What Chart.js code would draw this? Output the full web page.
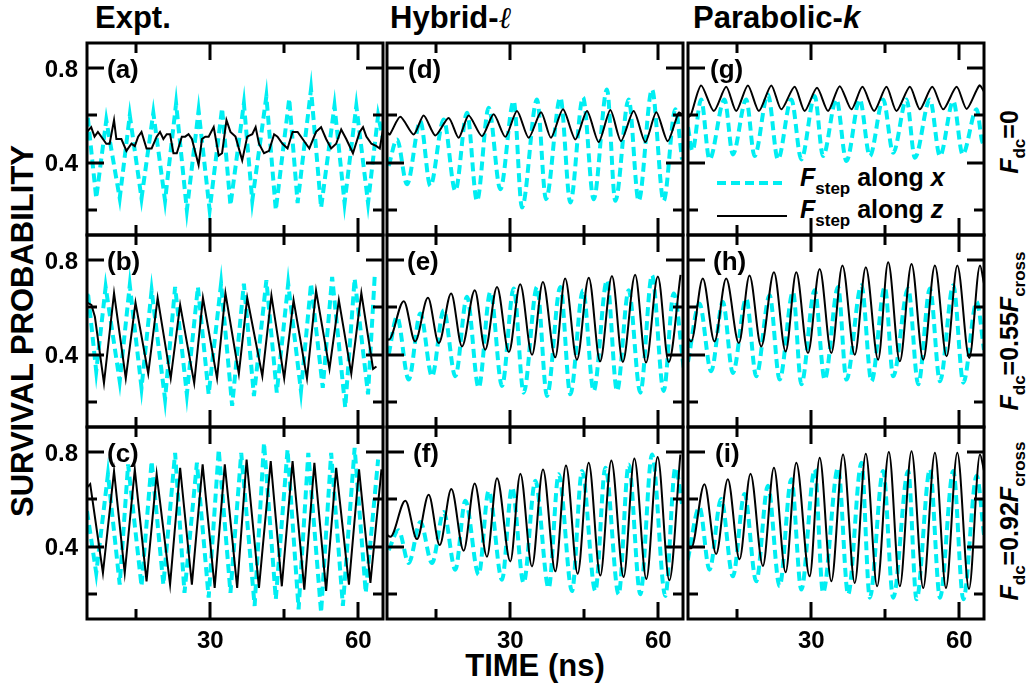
<!DOCTYPE html>
<html>
<head>
<meta charset="utf-8">
<script src="https://cdn.jsdelivr.net/npm/chart.js@4.4.1/dist/chart.umd.min.js"></script>
<style>
  html, body { margin: 0; padding: 0; background: #fff; }
  #page { position: relative; width: 1030px; height: 688px; overflow: hidden; background: #fff; }
  #page canvas { position: absolute; }
  #overlay { position: absolute; left: 0; top: 0; pointer-events: none; }
  #overlay text { font-family: "Liberation Sans", Arial, Helvetica, sans-serif; font-weight: bold; fill: #000; }
</style>
</head>
<body>
<div id="page">
  <svg id="overlay" width="1030" height="688" xmlns="http://www.w3.org/2000/svg">
    <!-- column headings -->
    <text x="95" y="28" font-size="31">Expt.</text>
    <text x="390" y="28" font-size="31">Hybrid-<tspan font-family="DejaVu Serif" font-weight="normal" font-style="italic" font-size="30">ℓ</tspan></text>
    <text x="693" y="28" font-size="31">Parabolic-<tspan font-style="italic">k</tspan></text>

    <!-- axis titles -->
    <text transform="translate(33,331) rotate(-90)" text-anchor="middle" font-size="31">SURVIVAL PROBABILITY</text>
    <text x="535" y="676" text-anchor="middle" font-size="31">TIME (ns)</text>

    <!-- row labels (static field) -->
    <text transform="translate(1018,142) rotate(-90)" text-anchor="middle" font-size="25"><tspan font-style="italic">F</tspan><tspan font-size="17" dy="7">dc</tspan><tspan dy="-7">=0</tspan></text>
    <text transform="translate(1018,331) rotate(-90)" text-anchor="middle" font-size="25"><tspan font-style="italic">F</tspan><tspan font-size="17" dy="7">dc</tspan><tspan dy="-7">=0.55</tspan><tspan font-style="italic">F</tspan><tspan font-size="17" dy="7">cross</tspan></text>
    <text transform="translate(1018,521) rotate(-90)" text-anchor="middle" font-size="25"><tspan font-style="italic">F</tspan><tspan font-size="17" dy="7">dc</tspan><tspan dy="-7">=0.92</tspan><tspan font-style="italic">F</tspan><tspan font-size="17" dy="7">cross</tspan></text>

    <!-- legend -->
    <line x1="717" y1="183" x2="786" y2="183" stroke="#00eef2" stroke-width="4" stroke-dasharray="9,5"/>
    <text x="800" y="186" font-size="25"><tspan font-style="italic">F</tspan><tspan font-size="17" dy="8">step</tspan><tspan dy="-8"> along </tspan><tspan font-style="italic">x</tspan></text>
    <line x1="717" y1="216" x2="787" y2="216" stroke="#000" stroke-width="2"/>
    <text x="800" y="218" font-size="25"><tspan font-style="italic">F</tspan><tspan font-size="17" dy="8">step</tspan><tspan dy="-8"> along </tspan><tspan font-style="italic">z</tspan></text>
  </svg>
</div>
<script>
// Axis settings shared by every panel
const timeRange = [5, 65];
const probRange = [0.095, 0.905];
const timeTicks = [15, 30, 45, 60];
const timeLabels = [30, 60];
const probTicks = [0.2, 0.4, 0.6, 0.8];
const probLabels = [0.4, 0.8];

// Survival probability vs. time, [time (ns), probability]
// Experiment, F_dc = 0
const expA_z = [[5.0,0.53],[5.85,0.55],[6.53,0.51],[7.21,0.53],[8.23,0.50],[8.91,0.48],[9.59,0.48],[10.48,0.58],[10.95,0.50],[11.97,0.50],[12.99,0.45],[14.01,0.48],[14.69,0.47],[15.37,0.51],[16.05,0.53],[17.07,0.46],[18.10,0.46],[19.12,0.51],[19.80,0.53],[20.48,0.50],[21.16,0.52],[21.84,0.52],[22.52,0.44],[23.20,0.44],[24.22,0.51],[24.90,0.51],[25.58,0.52],[26.26,0.50],[27.62,0.39],[28.30,0.50],[28.98,0.51],[29.66,0.51],[30.68,0.55],[31.70,0.43],[32.38,0.44],[33.27,0.58],[34.08,0.53],[35.10,0.51],[36.46,0.41],[37.48,0.51],[38.50,0.52],[39.18,0.55],[39.86,0.48],[40.88,0.44],[41.90,0.45],[42.93,0.52],[43.61,0.51],[44.63,0.48],[45.65,0.46],[46.67,0.53],[47.69,0.53],[48.71,0.50],[50.07,0.46],[51.43,0.53],[52.45,0.55],[53.47,0.50],[54.49,0.46],[55.51,0.48],[56.53,0.54],[57.55,0.50],[58.91,0.44],[60.27,0.53],[60.95,0.55],[61.63,0.51],[62.65,0.48],[63.67,0.47],[64.35,0.46],[65.0,0.54]];
const expA_x = [[5.17,0.59],[6.87,0.25],[8.91,0.58],[11.63,0.25],[13.67,0.60],[16.05,0.25],[18.44,0.61],[20.82,0.24],[23.06,0.65],[25.24,0.20],[27.62,0.62],[29.86,0.20],[32.38,0.63],[34.08,0.22],[36.80,0.65],[38.50,0.24],[41.36,0.68],[43.27,0.20],[45.99,0.67],[47.69,0.23],[50.41,0.71],[52.45,0.21],[55.17,0.64],[57.21,0.23],[59.59,0.64],[61.97,0.23],[64.01,0.60],[65.0,0.50]];
// Experiment, F_dc = 0.55 F_cross
const expB_z = [[5.0,0.62],[5.9,0.61],[6.6,0.56],[8.44,0.28],[10.48,0.66],[12.86,0.30],[14.83,0.62],[17.41,0.32],[19.32,0.64],[21.97,0.30],[23.88,0.61],[26.73,0.28],[28.50,0.64],[31.36,0.30],[33.06,0.66],[35.78,0.32],[37.48,0.64],[40.54,0.31],[42.38,0.65],[44.97,0.30],[46.87,0.63],[49.59,0.30],[51.43,0.67],[54.15,0.34],[56.05,0.63],[58.57,0.32],[60.61,0.66],[62.99,0.34],[63.67,0.35]];
const expB_x = [[5.0,0.62],[5.17,0.665],[6.87,0.33],[8.78,0.686],[11.63,0.288],[13.67,0.693],[16.05,0.26],[18.10,0.672],[20.82,0.212],[22.86,0.686],[25.24,0.233],[27.48,0.686],[29.66,0.233],[32.18,0.70],[34.42,0.184],[36.80,0.70],[38.84,0.226],[41.36,0.714],[43.47,0.24],[45.78,0.70],[48.37,0.247],[50.41,0.70],[52.79,0.26],[54.69,0.728],[57.35,0.177],[59.25,0.721],[61.97,0.233],[63.33,0.735]];
// Experiment, F_dc = 0.92 F_cross
const expC_z = [[4.97,0.65],[5.65,0.664],[8.23,0.289],[10.48,0.719],[12.65,0.289],[14.69,0.726],[17.07,0.254],[19.12,0.706],[21.84,0.24],[23.88,0.733],[26.26,0.24],[28.44,0.747],[30.88,0.226],[32.93,0.747],[35.44,0.226],[37.35,0.768],[39.86,0.226],[42.24,0.761],[44.49,0.233],[46.67,0.761],[49.05,0.219],[51.09,0.754],[53.47,0.213],[55.51,0.733],[58.10,0.24],[60.14,0.726],[62.45,0.247],[64.69,0.726]];
const expC_x = [[5.0,0.55],[6.87,0.289],[9.25,0.706],[11.63,0.24],[13.33,0.747],[16.05,0.233],[18.10,0.761],[20.48,0.24],[22.86,0.796],[24.76,0.205],[27.28,0.754],[29.66,0.185],[31.70,0.81],[34.08,0.205],[36.26,0.796],[38.98,0.15],[40.88,0.838],[43.27,0.178],[45.65,0.81],[47.89,0.136],[49.86,0.796],[52.45,0.122],[54.49,0.796],[56.87,0.15],[59.25,0.817],[61.50,0.205],[64.01,0.768]];

// Hybrid-l calculation
const hybD_z = [[5.0,0.53],[5.54,0.519],[7.70,0.594],[10.41,0.519],[12.43,0.599],[14.80,0.515],[17.50,0.589],[19.53,0.505],[21.55,0.599],[24.26,0.512],[26.62,0.604],[28.99,0.509],[31.35,0.618],[33.72,0.505],[36.22,0.613],[38.24,0.505],[40.68,0.625],[43.18,0.498],[45.54,0.618],[47.91,0.487],[50.27,0.622],[52.43,0.491],[55.00,0.618],[57.36,0.487],[59.59,0.613],[61.89,0.491],[64.12,0.611],[65.0,0.60]];
const hybD_x = [[5.34,0.386],[7.03,0.498],[9.05,0.309],[11.76,0.575],[13.78,0.302],[16.49,0.582],[18.85,0.281],[21.22,0.611],[23.24,0.239],[25.61,0.632],[27.97,0.288],[30.68,0.66],[32.36,0.211],[35.41,0.667],[37.23,0.246],[40.14,0.674],[42.16,0.232],[44.73,0.676],[46.89,0.246],[49.59,0.709],[51.28,0.239],[53.99,0.667],[56.01,0.239],[58.72,0.709],[61.08,0.239],[63.45,0.625],[64.80,0.414]];
const hybE_z = [[5.0,0.47],[5.34,0.463],[8.4,0.626],[10.7,0.456],[13.3,0.64],[15.5,0.449],[18.0,0.658],[20.2,0.435],[22.8,0.672],[24.9,0.421],[27.3,0.686],[29.7,0.411],[32.0,0.697],[34.4,0.40],[36.6,0.707],[39.1,0.389],[41.1,0.721],[43.5,0.379],[45.9,0.725],[48.2,0.372],[50.6,0.732],[52.8,0.369],[55.3,0.737],[57.5,0.367],[59.9,0.73],[62.1,0.369],[64.5,0.737]];
const hybE_x = [[5.34,0.40],[7.03,0.56],[9.39,0.295],[11.76,0.574],[14.12,0.309],[16.49,0.588],[18.85,0.309],[21.22,0.644],[23.58,0.261],[25.95,0.665],[28.31,0.268],[30.68,0.679],[32.70,0.24],[35.41,0.686],[37.43,0.226],[40.14,0.686],[42.16,0.233],[44.73,0.672],[46.89,0.247],[49.59,0.714],[51.62,0.247],[53.99,0.672],[56.35,0.24],[58.72,0.735],[61.08,0.247],[63.11,0.658],[65.14,0.344]];
const hybF_z = [[5.0,0.45],[5.68,0.442],[8.72,0.594],[11.08,0.432],[13.45,0.619],[15.68,0.407],[18.04,0.643],[20.54,0.383],[22.77,0.667],[25.27,0.358],[27.30,0.689],[30.00,0.338],[32.03,0.708],[34.39,0.317],[36.62,0.726],[39.12,0.296],[41.28,0.743],[43.65,0.286],[45.88,0.754],[48.24,0.278],[50.47,0.764],[52.97,0.272],[55.14,0.772],[57.57,0.264],[59.86,0.778],[62.23,0.258],[64.46,0.789]];
const hybF_x = [[5.34,0.386],[7.36,0.469],[9.39,0.331],[11.76,0.504],[14.12,0.331],[16.49,0.546],[18.85,0.303],[20.88,0.594],[23.58,0.282],[25.61,0.636],[28.31,0.261],[30.34,0.65],[32.70,0.247],[35.07,0.678],[37.77,0.226],[39.80,0.706],[42.50,0.213],[44.53,0.719],[47.23,0.213],[49.26,0.733],[51.96,0.199],[53.99,0.747],[56.35,0.199],[58.72,0.789],[61.42,0.192],[63.45,0.733],[64.80,0.581]];

// Parabolic-k calculation
const parG_z = [[5.0,0.59],[5.63,0.604],[7.66,0.726],[10.23,0.618],[12.74,0.72],[14.77,0.618],[17.14,0.726],[19.37,0.618],[21.88,0.726],[23.91,0.625],[26.61,0.72],[28.65,0.618],[31.15,0.716],[33.39,0.618],[35.75,0.723],[38.12,0.625],[40.36,0.72],[42.73,0.618],[45.23,0.72],[47.26,0.618],[49.97,0.72],[52.00,0.625],[54.51,0.72],[56.74,0.625],[59.45,0.72],[61.48,0.627],[64.06,0.726],[65.0,0.70]];
const parG_x = [[5.0,0.55],[5.9,0.45],[7.66,0.667],[9.35,0.414],[12.40,0.667],[14.09,0.435],[16.80,0.667],[18.49,0.428],[21.20,0.688],[23.23,0.414],[25.94,0.667],[27.97,0.414],[30.68,0.681],[32.37,0.428],[35.08,0.667],[37.11,0.407],[39.82,0.667],[41.85,0.428],[44.56,0.667],[46.59,0.442],[49.30,0.667],[50.99,0.421],[54.04,0.667],[56.07,0.428],[58.77,0.66],[60.67,0.435],[63.51,0.625],[64.53,0.498],[65.0,0.47]];
const parH_z = [[5.0,0.47],[5.63,0.456],[8.00,0.721],[10.37,0.456],[12.74,0.721],[15.31,0.449],[17.47,0.734],[19.84,0.435],[22.42,0.748],[24.79,0.414],[26.95,0.748],[29.32,0.407],[31.69,0.762],[34.06,0.407],[36.30,0.776],[38.80,0.40],[41.04,0.769],[43.54,0.379],[45.57,0.79],[47.94,0.372],[50.31,0.783],[52.68,0.379],[55.05,0.776],[57.42,0.393],[59.59,0.776],[62.02,0.386],[64.19,0.776],[65.0,0.70]];
const parH_x = [[5.0,0.37],[7.32,0.616],[9.69,0.33],[12.06,0.623],[14.09,0.323],[16.80,0.637],[18.83,0.309],[21.54,0.651],[23.57,0.295],[26.28,0.665],[27.97,0.275],[30.68,0.672],[32.71,0.295],[35.42,0.686],[37.11,0.295],[40.16,0.693],[42.19,0.288],[44.90,0.686],[46.59,0.309],[49.63,0.679],[51.67,0.275],[54.04,0.679],[56.07,0.288],[58.77,0.693],[60.81,0.282],[63.51,0.623],[65.0,0.42]];
const parI_z = [[5.0,0.40],[5.63,0.393],[8.33,0.664],[10.70,0.369],[13.07,0.685],[15.44,0.347],[17.67,0.708],[20.18,0.319],[22.42,0.733],[24.79,0.292],[26.95,0.754],[29.66,0.275],[31.69,0.775],[34.06,0.254],[36.43,0.789],[38.80,0.247],[41.04,0.792],[43.34,0.233],[45.71,0.80],[47.94,0.233],[50.31,0.803],[52.68,0.226],[55.05,0.796],[57.29,0.226],[59.59,0.796],[61.96,0.222],[64.19,0.789],[65.0,0.72]];
const parI_x = [[4.95,0.344],[7.32,0.567],[9.35,0.303],[11.72,0.601],[14.09,0.275],[16.46,0.622],[18.83,0.254],[21.20,0.657],[23.57,0.233],[25.94,0.685],[27.97,0.219],[30.68,0.726],[32.37,0.206],[35.42,0.733],[37.45,0.199],[40.16,0.754],[41.85,0.185],[44.56,0.719],[46.59,0.185],[49.63,0.719],[51.33,0.178],[54.04,0.726],[56.07,0.185],[58.77,0.719],[60.81,0.178],[63.51,0.699],[65.0,0.45]];

const CYAN = '#00eef2';
const FONT = '"Liberation Sans", Arial, Helvetica, sans-serif';

// Boxed frame with inward ticks on all four sides, tick labels and the panel letter
const framePlugin = {
  id: 'frame',
  afterDatasetsDraw(chart, args, opts) {
    const { ctx, chartArea: a, scales: { x, y } } = chart;
    ctx.save();
    ctx.strokeStyle = '#000';
    ctx.lineWidth = 3;
    ctx.lineCap = 'butt';
    const seg = (x1, y1, x2, y2) => { ctx.beginPath(); ctx.moveTo(x1, y1); ctx.lineTo(x2, y2); ctx.stroke(); };
    timeTicks.forEach(v => {
      const px = Math.round(x.getPixelForValue(v));
      const len = timeLabels.includes(v) ? 17 : 10;
      seg(px, a.top, px, a.top + len);
      seg(px, a.bottom, px, a.bottom - len);
    });
    probTicks.forEach(v => {
      const py = Math.round(y.getPixelForValue(v));
      const len = probLabels.includes(v) ? 17 : 10;
      seg(a.left, py, a.left + len, py);
      seg(a.right, py, a.right - len, py);
    });
    ctx.strokeRect(a.left, a.top, a.right - a.left, a.bottom - a.top);

    ctx.fillStyle = '#000';
    ctx.font = 'bold 24px ' + FONT;
    if (opts.yLabels) {
      ctx.textAlign = 'right';
      ctx.textBaseline = 'middle';
      probLabels.forEach(v => ctx.fillText(v.toFixed(1), a.left - 9, y.getPixelForValue(v) + 2));
    }
    if (opts.xLabels) {
      ctx.textAlign = 'center';
      ctx.textBaseline = 'top';
      timeLabels.forEach(v => ctx.fillText(String(v), x.getPixelForValue(v), a.bottom + 10));
    }
    if (opts.letter) {
      ctx.font = 'bold 26px ' + FONT;
      ctx.textAlign = 'left';
      ctx.textBaseline = 'alphabetic';
      ctx.fillText(opts.letter, a.left + opts.letterDx, a.top + 35);
    }
    ctx.restore();
  }
};

const colLeft = [87, 387, 688];
const rowTop = [43, 235, 427];
const panelW = 296, panelH = 192;

const toPts = arr => arr.map(([t, p]) => ({ x: t, y: p }));

function curve(kind) {
  if (kind === 'smooth') return { cubicInterpolationMode: 'monotone' };
  if (kind === 'soft') return { tension: 0.25 };
  return { tension: 0 };
}

function panel(col, row, letter, letterDx, zData, xData, zKind, xKind) {
  const pad = { left: col === 0 ? 80 : 4, right: 4, top: 4, bottom: row === 2 ? 42 : 4 };
  const cv = document.createElement('canvas');
  const w = panelW + pad.left + pad.right, h = panelH + pad.top + pad.bottom;
  cv.width = w; cv.height = h;
  cv.style.width = w + 'px'; cv.style.height = h + 'px';
  cv.style.left = (colLeft[col] - pad.left) + 'px';
  cv.style.top = (rowTop[row] - pad.top) + 'px';
  document.getElementById('page').appendChild(cv);
  new Chart(cv, {
    type: 'line',
    data: {
      datasets: [
        Object.assign({ label: 'F_step along z', data: toPts(zData), borderColor: '#000', borderWidth: 2,
          pointRadius: 0, fill: false, order: 0 }, curve(zKind)),
        Object.assign({ label: 'F_step along x', data: toPts(xData), borderColor: CYAN, borderWidth: 4,
          borderDash: [9, 5], pointRadius: 0, fill: false, order: 1 }, curve(xKind))
      ]
    },
    options: {
      responsive: false,
      animation: false,
      devicePixelRatio: 1,
      events: [],
      layout: { padding: pad },
      scales: {
        x: { type: 'linear', min: timeRange[0], max: timeRange[1], display: false },
        y: { type: 'linear', min: probRange[0], max: probRange[1], display: false }
      },
      plugins: {
        legend: { display: false },
        tooltip: { enabled: false },
        frame: { letter, letterDx, yLabels: col === 0, xLabels: row === 2 }
      }
    },
    plugins: [framePlugin]
  });
}

panel(0, 0, '(a)', 20, expA_z, expA_x, 'line', 'line');
panel(0, 1, '(b)', 20, expB_z, expB_x, 'line', 'line');
panel(0, 2, '(c)', 20, expC_z, expC_x, 'line', 'line');
panel(1, 0, '(d)', 21, hybD_z, hybD_x, 'soft', 'smooth');
panel(1, 1, '(e)', 20, hybE_z, hybE_x, 'smooth', 'smooth');
panel(1, 2, '(f)', 26, hybF_z, hybF_x, 'smooth', 'smooth');
panel(2, 0, '(g)', 22, parG_z, parG_x, 'soft', 'smooth');
panel(2, 1, '(h)', 25, parH_z, parH_x, 'smooth', 'smooth');
panel(2, 2, '(i)', 27, parI_z, parI_x, 'smooth', 'smooth');
</script>
</body>
</html>
